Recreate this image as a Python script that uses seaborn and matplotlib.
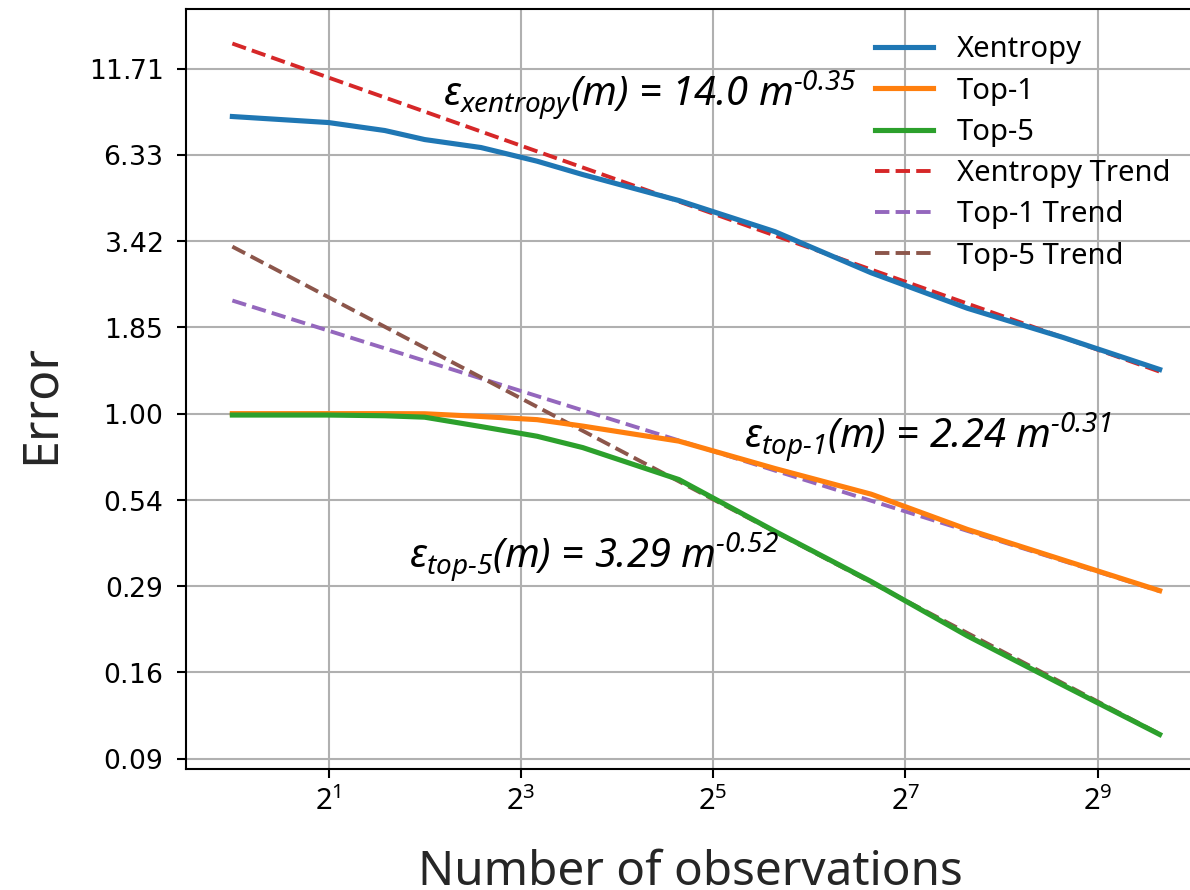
import numpy as np
import pandas as pd
import matplotlib
matplotlib.use("Agg")
import matplotlib.pyplot as plt
import matplotlib.ticker as mticker
import seaborn as sns

# ---------------- data ----------------
observations = [1, 2, 3, 4, 6, 9, 12.5, 25, 50, 100, 200, 400, 800]
xentropy_err = [8.32, 7.97, 7.53, 7.06, 6.67, 6.05, 5.50, 4.57, 3.66, 2.73, 2.12, 1.72, 1.37]
top1_err = [1.00, 1.00, 1.00, 0.999, 0.98, 0.958, 0.915, 0.822, 0.676, 0.563, 0.438, 0.352, 0.283]
top5_err = [0.99, 0.99, 0.985, 0.975, 0.912, 0.851, 0.785, 0.625, 0.432, 0.302, 0.205, 0.144, 0.1015]

series_names = ["Xentropy", "Top-1", "Top-5"]
trend_names = ["Xentropy Trend", "Top-1 Trend", "Top-5 Trend"]
trend_coef = [14.0, 2.24, 3.29]
trend_exp = [-0.35, -0.31, -0.52]

ytick_values = [0.0854, 0.158, 0.292, 0.540, 1.00, 1.85, 3.42, 6.33, 11.71]
ytick_labels = [f"${v:.2f}$" for v in ytick_values]
xtick_values = [2, 8, 32, 128, 512]

solid_colors = ["#1f77b4", "#ff7f0e", "#2ca02c"]
trend_colors = ["#d62728", "#9467bd", "#8c564b"]

# ---------------- style ----------------
plt.rcParams["font.family"] = ["Noto Sans", "DejaVu Sans"]
plt.rcParams["mathtext.fontset"] = "dejavusans"

fig = plt.figure(figsize=(11.9, 8.9), dpi=100)
ax = fig.add_axes([186 / 1190, (890 - 769) / 890, 1020 / 1190, 760 / 890])
ax.set_xscale("log", base=2)
ax.set_yscale("log")

series_vals = [xentropy_err, top1_err, top5_err]
df = pd.DataFrame({
    "m": np.tile(observations, 3),
    "err": np.concatenate(series_vals),
    "series": np.repeat(series_names, len(observations)),
})

for name, col in zip(series_names, solid_colors):
    sub = df[df["series"] == name]
    sns.lineplot(data=sub, x="m", y="err", color=col, lw=3.7, label=name,
                 ax=ax, zorder=3, estimator=None, sort=True)

m_arr = np.array(observations, dtype=float)
for name, col, c, e in zip(trend_names, trend_colors, trend_coef, trend_exp):
    tdf = pd.DataFrame({"m": m_arr, "err": c * m_arr ** e})
    sns.lineplot(data=tdf, x="m", y="err", color=col, lw=2.8, linestyle="--",
                 label=name, ax=ax, zorder=2, estimator=None)

# ---------------- axes ----------------
ax.xaxis.set_major_locator(mticker.FixedLocator(xtick_values))
ax.xaxis.set_major_formatter(mticker.LogFormatterSciNotation(base=2))
ax.xaxis.set_minor_locator(mticker.NullLocator())
ax.yaxis.set_major_locator(mticker.FixedLocator(ytick_values))
ax.yaxis.set_major_formatter(mticker.FixedFormatter(ytick_labels))
ax.yaxis.set_minor_locator(mticker.NullLocator())

ax.tick_params(axis="both", which="major", length=6.5, width=1.5, color="black")
ax.tick_params(axis="x", labelsize=21, pad=6.5)
ax.tick_params(axis="y", labelsize=19.2, pad=10.5)

ax.grid(True, color="#b0b0b0", lw=1.5)
ax.set_axisbelow(True)
for sp in ax.spines.values():
    sp.set_linewidth(1.5)
    sp.set_color("black")

ax.set_xlabel("Number of observations", fontsize=34.3, color="0.15")
ax.set_ylabel("Error", fontsize=36, color="0.15")
ax.xaxis.set_label_coords(0.494, -0.105)
ax.yaxis.set_label_coords(-0.1176, 0.48)

# ---------------- annotations ----------------
ann_kw = dict(fontsize=28.7, style="italic", ha="left", va="baseline", color="black")
ax.text(4.555, 8.935, "$\\mathdefault{ε_{xentropy}}$(m) = 14.0 $\\mathdefault{m^{\u20100.35}}$", **ann_kw)
ax.text(39.94, 0.7832, "$\\mathdefault{ε_{top\u20101}}$(m) = 2.24 $\\mathdefault{m^{\u20100.31}}$", **ann_kw)
ax.text(3.579, 0.3323, "$\\mathdefault{ε_{top\u20105}}$(m) = 3.29 $\\mathdefault{m^{\u20100.52}}$", **ann_kw)

# ---------------- legend ----------------
handles, labels = ax.get_legend_handles_labels()
ax.legend(handles, labels, loc="upper right", frameon=False, fontsize=21,
          handlelength=2.0, handletextpad=0.8, labelspacing=0.42,
          bbox_to_anchor=(0.9905, 1.0))

fig.savefig("out.png", dpi=100)
